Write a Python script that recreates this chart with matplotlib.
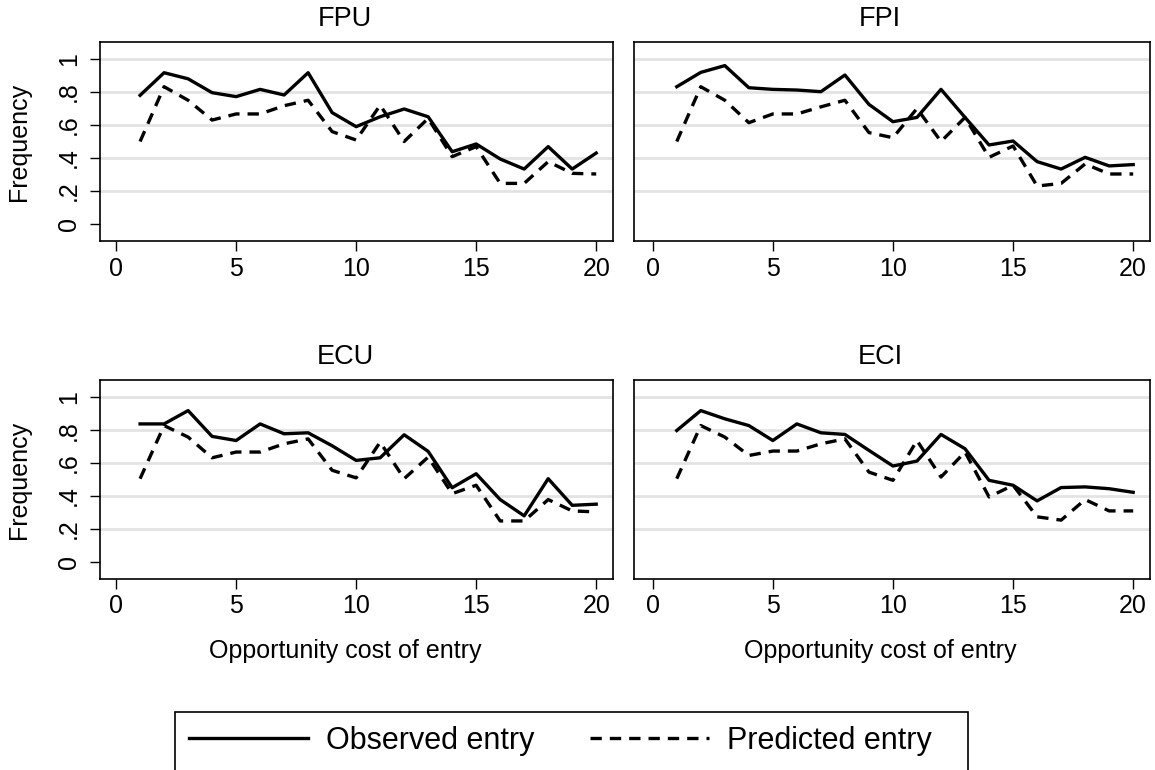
import numpy as np
import matplotlib
matplotlib.use("Agg")
import matplotlib.pyplot as plt
from matplotlib.patches import Rectangle

plt.rcParams['font.family'] = ['Liberation Sans', 'DejaVu Sans']

cost = list(range(1, 21))
panels = ["FPU", "FPI", "ECU", "ECI"]

# observed entry frequency per treatment
obs_fpu = [0.78, 0.917, 0.88, 0.796, 0.772, 0.816, 0.782, 0.917, 0.675, 0.59,
           0.65, 0.697, 0.65, 0.438, 0.485, 0.394, 0.333, 0.469, 0.333, 0.43]
obs_fpi = [0.832, 0.919, 0.96, 0.826, 0.816, 0.812, 0.802, 0.903, 0.725, 0.62,
           0.646, 0.816, 0.646, 0.479, 0.503, 0.378, 0.333, 0.404, 0.352, 0.36]
obs_ecu = [0.838, 0.838, 0.919, 0.762, 0.737, 0.838, 0.778, 0.784, 0.705, 0.616,
           0.632, 0.772, 0.671, 0.45, 0.535, 0.378, 0.279, 0.505, 0.343, 0.35]
obs_eci = [0.798, 0.919, 0.869, 0.828, 0.737, 0.838, 0.784, 0.774, 0.677, 0.582,
           0.612, 0.774, 0.687, 0.495, 0.465, 0.37, 0.451, 0.455, 0.444, 0.422]

# predicted entry frequency per treatment
pred_fpu = [0.5, 0.832, 0.75, 0.63, 0.667, 0.667, 0.717, 0.75, 0.56, 0.509,
            0.72, 0.5, 0.64, 0.408, 0.469, 0.246, 0.246, 0.378, 0.307, 0.303]
pred_fpi = [0.5, 0.832, 0.75, 0.614, 0.667, 0.667, 0.71, 0.75, 0.554, 0.523,
            0.70, 0.5, 0.646, 0.404, 0.473, 0.23, 0.246, 0.364, 0.303, 0.303]
pred_ecu = [0.505, 0.828, 0.758, 0.632, 0.667, 0.667, 0.717, 0.747, 0.556, 0.51,
            0.727, 0.505, 0.636, 0.414, 0.465, 0.248, 0.248, 0.378, 0.309, 0.303]
pred_eci = [0.505, 0.828, 0.758, 0.646, 0.673, 0.673, 0.717, 0.747, 0.545, 0.495,
            0.737, 0.515, 0.667, 0.394, 0.465, 0.273, 0.253, 0.378, 0.309, 0.309]

observed = [obs_fpu, obs_fpi, obs_ecu, obs_eci]
predicted = [pred_fpu, pred_fpi, pred_ecu, pred_eci]

yticks = [0, 0.2, 0.4, 0.6, 0.8, 1]
ylabels = ["0", ".2", ".4", ".6", ".8", "1"]
xticks = [0, 5, 10, 15, 20]

W, H = 1155, 770
fig = plt.figure(figsize=(W / 100, H / 100), dpi=100)

# axes boxes in pixels: left, right, top, bottom
boxes = [(100, 613, 41.7, 241.3), (634, 1150, 41.7, 241.3),
         (100, 613, 380, 579), (634, 1150, 380, 579)]
title_x = [345, 880, 345, 880]

FS = 18
lines = []
for i, (l, r, t, b) in enumerate(boxes):
    ax = fig.add_axes([l / W, 1 - b / H, (r - l) / W, (b - t) / H])
    for y in yticks[1:]:
        ax.axhline(y, color='#e3e3e3', lw=2.0, zorder=0)
    h1, = ax.plot(cost, observed[i], color='black', lw=2.4)
    h2, = ax.plot(cost, predicted[i], color='black', lw=2.4, ls=(0, (3.4, 2.4)))
    lines = [h1, h2]
    ax.set_xlim(-0.67 if i % 2 == 0 else -0.78, 20.7)
    ax.set_ylim(-0.105, 1.105)
    ax.set_xticks(xticks)
    ax.set_xticklabels([str(x) for x in xticks])
    ax.tick_params(axis='x', length=7.5, width=1, pad=3.5, labelsize=FS)
    ax.set_yticks(yticks)
    if i % 2 == 0:
        ax.set_yticklabels(ylabels, rotation=90, va='center')
        ax.tick_params(axis='y', length=7.5, width=1, pad=6, labelsize=FS)
        fig.text(19 / W, 1 - ((t + b) / 2) / H, "Frequency", rotation=90,
                 ha='center', va='center', fontsize=FS)
    else:
        ax.tick_params(axis='y', length=0, labelleft=False)
    for s in ax.spines.values():
        s.set_linewidth(1.2)
    fig.text(title_x[i] / W, 1 - (t - 23) / H, panels[i], ha='center', va='center', fontsize=19.5)
    if i >= 2:
        fig.text(title_x[i] / W, 1 - 651 / H, "Opportunity cost of entry",
                 ha='center', va='center', fontsize=FS)

leg = fig.legend(lines, ["Observed entry", "Predicted entry"], ncol=2,
                 loc='upper left', bbox_to_anchor=(175 / W, 1 - 712 / H),
                 fontsize=22, frameon=False,
                 handlelength=3.9, columnspacing=1.8, borderpad=0.45, handletextpad=0.6,
                 borderaxespad=0)

# legend box runs off the bottom edge like in the original export
fig.patches.append(Rectangle((175 / W, -0.05), (968 - 175) / W, 0.05 + (770 - 712) / H,
                             transform=fig.transFigure, fill=False,
                             edgecolor='black', lw=1.2))

fig.savefig("out.png", dpi=100, facecolor='white')
